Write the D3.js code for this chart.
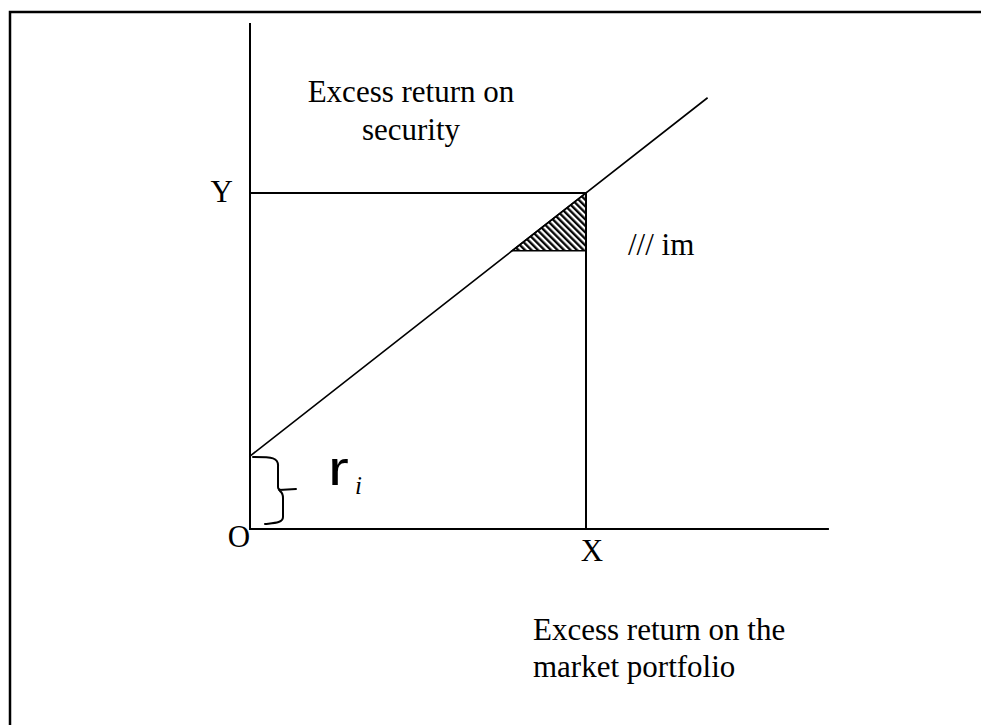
<!DOCTYPE html>
<html>
<head>
<meta charset="utf-8">
<script src="https://cdn.jsdelivr.net/npm/d3@7"></script>
<style>
  html, body { margin: 0; padding: 0; background: #fff; overflow: hidden; }
  svg { display: block; }
  text { font-family: "Liberation Serif", "Times New Roman", serif; fill: #000; }
</style>
</head>
<body>
<div id="chart"></div>
<script>
// Data, in diagram units (X = 1 on the x axis, Y = 1 on the y axis)
var xAxisLine = [[0, 0], [1.72, 0]];
var yAxisLine = [[0, 0], [0, 1.503]];
var characteristicLine = [[0, 0.217], [1.36, 1.282]];
var guideFromY = [[0, 1], [1, 1]];
var guideFromX = [[1, 0], [1, 1]];
var hatchTriangle = [[0.78, 0.828], [1, 0.828], [1, 1]];
var interceptRange = [0, 0.217];
var axisLabels = [
  {text: "O", pos: [0, 0]},
  {text: "X", pos: [1, 0]},
  {text: "Y", pos: [0, 1]}
];

var width = 981,
    height = 725;

// pixel scales
var x = d3.scaleLinear().domain([0, 1]).range([250, 586]);
var y = d3.scaleLinear().domain([0, 1]).range([529, 193]);

var line = d3.line()
    .x(function(d) { return x(d[0]); })
    .y(function(d) { return y(d[1]); });

var svg = d3.select("#chart")
    .append("svg")
    .attr("width", width)
    .attr("height", height);

// hatch pattern for the small triangle
var defs = svg.append("defs");
defs.append("pattern")
    .attr("id", "hatch")
    .attr("patternUnits", "userSpaceOnUse")
    .attr("width", 4.6)
    .attr("height", 4.6)
    .attr("patternTransform", "rotate(-45)")
  .append("line")
    .attr("x1", 1.2).attr("y1", 0)
    .attr("x2", 1.2).attr("y2", 4.6)
    .attr("stroke", "#000")
    .attr("stroke-width", 2.3);

// outer frame (only top and left edges are in view)
svg.append("rect")
    .attr("x", 10)
    .attr("y", 12)
    .attr("width", 1000)
    .attr("height", 800)
    .attr("fill", "none")
    .attr("stroke", "#000")
    .attr("stroke-width", 2.5);

svg.append("path")
    .attr("d", line(hatchTriangle) + "Z")
    .attr("fill", "url(#hatch)")
    .attr("stroke", "#000")
    .attr("stroke-width", 1.5);

var lines = [
  {pts: xAxisLine, w: 2},
  {pts: yAxisLine, w: 2},
  {pts: guideFromY, w: 2},
  {pts: guideFromX, w: 2},
  {pts: characteristicLine, w: 1.6}
];

svg.selectAll("path.seg")
    .data(lines)
  .enter()
    .append("path")
    .attr("class", "seg")
    .attr("d", function(d) { return line(d.pts); })
    .attr("fill", "none")
    .attr("stroke", "#000")
    .attr("stroke-width", function(d) { return d.w; })
    .attr("stroke-linecap", "square");

// hand-drawn brace for the intercept
var bTop = y(interceptRange[1]) + 1,
    bBot = y(interceptRange[0]) - 6,
    bMid = (bTop + bBot) / 2,
    bx = x(0);
var brace = d3.path();
brace.moveTo(bx + 3, bTop);
brace.bezierCurveTo(bx + 22, bTop, bx + 29, bTop, bx + 28, bTop + 10);
brace.lineTo(bx + 28, bMid - 3);
brace.quadraticCurveTo(bx + 28, bMid, bx + 32, bMid);
brace.moveTo(bx + 29, bMid);
brace.lineTo(bx + 46, bMid - 1);
brace.moveTo(bx + 30, bMid + 1);
brace.quadraticCurveTo(bx + 33, bMid + 3, bx + 33, bMid + 8);
brace.lineTo(bx + 33, bBot - 6);
brace.bezierCurveTo(bx + 33, bBot, bx + 24, bBot, bx + 15, bBot + 1);
svg.append("path")
    .attr("d", brace.toString())
    .attr("fill", "none")
    .attr("stroke", "#000")
    .attr("stroke-width", 2)
    .attr("stroke-linecap", "round")
    .attr("stroke-linejoin", "round");

// r_i label
var ri = svg.append("g")
    .attr("transform", "translate(" + (bx + 78) + "," + (y(0) - 44) + ")");
ri.append("text")
    .attr("transform", "scale(1.3,1)")
    .style("font-family", "'Liberation Sans', Arial, sans-serif")
    .style("font-size", "48px")
    .text("r");
ri.append("text")
    .attr("x", 27)
    .attr("y", 9)
    .style("font-style", "italic")
    .style("font-size", "25px")
    .text("i");

// axis letters
svg.selectAll("text.axislab")
    .data(axisLabels)
  .enter()
    .append("text")
    .attr("class", "axislab")
    .style("font-size", "31px")
    .attr("text-anchor", function(d) { return d.text === "Y" ? "end" : "middle"; })
    .attr("x", function(d) {
      if (d.text === "O") return x(d.pos[0]) - 11;
      if (d.text === "Y") return x(d.pos[0]) - 17;
      return x(d.pos[0]) + 6;
    })
    .attr("y", function(d) {
      if (d.text === "O") return y(d.pos[1]) + 18;
      if (d.text === "Y") return y(d.pos[1]) + 9;
      return y(d.pos[1]) + 32;
    })
    .text(function(d) { return d.text; });

// titles
var yTitle = svg.append("text")
    .attr("text-anchor", "middle")
    .style("font-size", "31px");
yTitle.append("tspan").attr("x", 411).attr("y", 102).text("Excess return on");
yTitle.append("tspan").attr("x", 411).attr("y", 140).text("security");

var xTitle = svg.append("text")
    .style("font-size", "31px");
xTitle.append("tspan").attr("x", 533).attr("y", 640).text("Excess return on the");
xTitle.append("tspan").attr("x", 533).attr("y", 677).text("market portfolio");

svg.append("text")
    .attr("x", x(1) + 42)
    .attr("y", 255)
    .style("font-size", "31px")
    .text("/// im");
</script>
</body>
</html>
